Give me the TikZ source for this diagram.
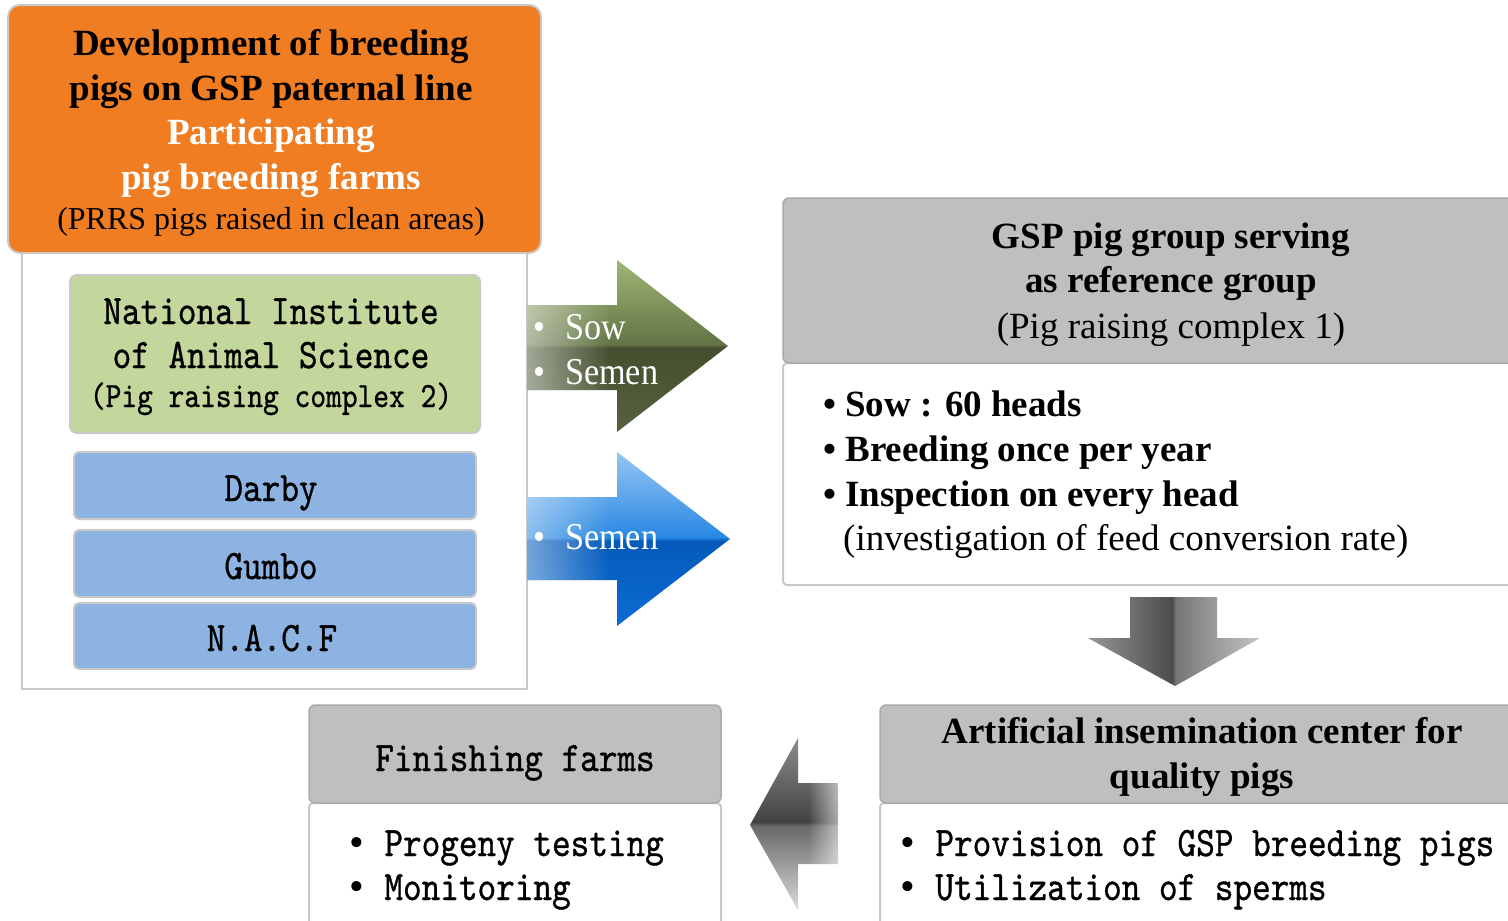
\documentclass[tikz,border=0pt]{standalone}
\usepackage{fontspec}
\setmainfont{Liberation Serif}
\newfontfamily\tnr{Liberation Serif}
\newfontfamily\narrowserif[FakeStretch=0.9]{Liberation Serif}
\newfontfamily\gmono[Extension=.otf, FakeStretch=0.845, FakeBold=0.8]{lmmono10-regular}
\usetikzlibrary{fadings}
\tikzfading[name=fadeR, left color=transparent!0, right color=transparent!100]
\tikzfading[name=fadeL, left color=transparent!100, right color=transparent!0]
\definecolor{orangefill}{RGB}{240,125,34}
\definecolor{greenfill}{RGB}{195,214,155}
\definecolor{bluefill}{RGB}{141,179,226}
\definecolor{hdrgray}{RGB}{191,191,191}
\definecolor{hdrline}{RGB}{170,170,170}
\definecolor{boxline}{RGB}{200,200,200}
% arrow shadings (stops 25bp..75bp map onto the path)
\pgfdeclareverticalshading{greenarrow}{100bp}{%
  color(0bp)=(rgb,255:red,86;green,98;blue,64); color(25bp)=(rgb,255:red,86;green,98;blue,64);
  color(49.5bp)=(rgb,255:red,68;green,78;blue,46); color(50.5bp)=(rgb,255:red,98;green,116;blue,70);
  color(75bp)=(rgb,255:red,160;green,182;blue,116); color(100bp)=(rgb,255:red,160;green,182;blue,116)}
\pgfdeclareverticalshading{bluearrow}{100bp}{%
  color(0bp)=(rgb,255:red,12;green,108;blue,210); color(25bp)=(rgb,255:red,12;green,108;blue,210);
  color(49.5bp)=(rgb,255:red,4;green,90;blue,186); color(50.5bp)=(rgb,255:red,40;green,136;blue,226);
  color(75bp)=(rgb,255:red,150;green,198;blue,244); color(100bp)=(rgb,255:red,150;green,198;blue,244)}
\pgfdeclarehorizontalshading{downarrow}{100bp}{%
  color(0bp)=(rgb,255:red,150;green,150;blue,150); color(25bp)=(rgb,255:red,150;green,150;blue,150);
  color(49.5bp)=(rgb,255:red,76;green,76;blue,76); color(50.5bp)=(rgb,255:red,118;green,118;blue,118);
  color(75bp)=(rgb,255:red,196;green,196;blue,196); color(100bp)=(rgb,255:red,196;green,196;blue,196)}
\pgfdeclareverticalshading{leftarrow}{100bp}{%
  color(0bp)=(rgb,255:red,218;green,218;blue,218); color(25bp)=(rgb,255:red,218;green,218;blue,218);
  color(49.5bp)=(rgb,255:red,104;green,104;blue,104); color(50.5bp)=(rgb,255:red,66;green,66;blue,66);
  color(75bp)=(rgb,255:red,140;green,140;blue,140); color(100bp)=(rgb,255:red,140;green,140;blue,140)}
\newcommand{\mbul}{\makebox[18.6pt]{\tnr •}}
\tikzset{
  panel/.style={draw=boxline, line width=2pt, fill=white},
  orangebox/.style={draw=boxline, line width=2pt, fill=orangefill, rounded corners=12pt},
  greenbox/.style={draw=boxline, line width=2pt, fill=greenfill, rounded corners=7pt},
  bluebox/.style={draw=boxline, line width=2pt, fill=bluefill, rounded corners=5pt},
  hdrbox/.style={draw=hdrline, line width=1.5pt, fill=hdrgray, rounded corners=6pt},
  bodybox/.style={draw=boxline, line width=2pt, fill=white, rounded corners=4pt},
  txt/.style={inner sep=0pt, anchor=base},
  txtw/.style={inner sep=0pt, anchor=base west},
  tbold/.style={txt, font=\fontsize{37}{44}\selectfont\bfseries},
  tboldw/.style={txtw, font=\fontsize{37}{44}\selectfont\bfseries},
  treg/.style={txt, font=\fontsize{37}{44}\selectfont},
  tregw/.style={txtw, font=\fontsize{37}{44}\selectfont},
  tsmall/.style={txt, font=\fontsize{32}{38}\selectfont},
  mono/.style={txt, font=\gmono\fontsize{42}{46}\selectfont},
  monow/.style={txtw, font=\gmono\fontsize{42}{46}\selectfont},
  monosmall/.style={txt, font=\gmono\fontsize{35.5}{40}\selectfont},
  arrowtxt/.style={txtw, text=white, font=\narrowserif\fontsize{38}{44}\selectfont},
}
\begin{document}
\begin{tikzpicture}[x=1pt,y=-1pt]
\clip (0,0) rectangle (1508,921);
\fill[white] (0,0) rectangle (1508,921);

% ---------- left column ----------
\node[panel, minimum width=505pt, minimum height=436pt] (panel) at (274.5,471) {};
\node[orangebox, minimum width=533pt, minimum height=248pt] (orange) at (274.5,129) {};
\node[tbold] (o1) at (271,55) {Development of breeding};
\node[tbold] (o2) at (271,100) {pigs on GSP paternal line};
\node[tbold, text=white] (o3) at (271,144) {Participating};
\node[tbold, text=white] (o4) at (271,189) {pig breeding farms};
\node[tsmall] (o5) at (271,229) {(PRRS pigs raised in clean areas)};

\node[greenbox, minimum width=410pt, minimum height=158pt] (nias) at (275,354) {};
\node[mono] (n1) at (271,324) {National Institute};
\node[mono] (n2) at (271,368) {of Animal Science};
\node[monosmall] (n3) at (271,407) {(Pig raising complex 2)};

\node[bluebox, minimum width=402pt, minimum height=67pt] (darby) at (275,485.5) {};
\node[bluebox, minimum width=402pt, minimum height=67pt] (gumbo) at (275,563.5) {};
\node[bluebox, minimum width=402pt, minimum height=66pt] (nacf) at (275,636) {};
\node[mono] (t-darby) at (271,501) {Darby};
\node[mono] (t-gumbo) at (271,579) {Gumbo};
\node[mono] (t-nacf) at (272,651) {N.A.C.F};

% ---------- horizontal arrows ----------
\shade[shading=greenarrow]
  (527,305) -- (617,305) -- (617,260) -- (728,346) -- (617,432) -- (617,390) -- (527,390) -- cycle;
\fill[white, path fading=fadeR, fill opacity=0.5] (527,305) rectangle (610,390);
\shade[shading=bluearrow]
  (527,497) -- (617,497) -- (617,452) -- (730,539) -- (617,626) -- (617,580) -- (527,580) -- cycle;
\fill[white, path fading=fadeR, fill opacity=0.45] (527,497) rectangle (610,580);
\node[arrowtxt] (a1) at (533,339) {\makebox[32pt][l]{•}Sow};
\node[arrowtxt] (a2) at (533,384) {\makebox[32pt][l]{•}Semen};
\node[arrowtxt] (a3) at (533,549) {\makebox[32pt][l]{•}Semen};

% ---------- right top box ----------
\node[bodybox, minimum width=737pt, minimum height=222pt] (refbody) at (1151.5,474) {};
\node[hdrbox, minimum width=737pt, minimum height=165pt] (refhdr) at (1151.5,280.5) {};
\node[tbold] (r1) at (1171,248) {GSP pig group serving};
\node[tbold] (r2) at (1171,292) {as reference group};
\node[treg] (r3) at (1171,338) {(Pig raising complex 1)};
\node[tboldw] (b1) at (823,416) {• Sow : 60 heads};
\node[tboldw] (b2) at (823,461) {• Breeding once per year};
\node[tboldw] (b3) at (823,506) {• Inspection on every head};
\node[tregw] (b4) at (843,550) {(investigation of feed conversion rate)};

% ---------- down arrow ----------
\shade[shading=downarrow]
  (1130,597) -- (1217,597) -- (1217,638) -- (1260,638) -- (1175,686) -- (1088,638) -- (1130,638) -- cycle;

% ---------- bottom right box ----------
\node[bodybox, minimum width=640pt, minimum height=132pt] (aibody) at (1200,869) {};
\node[hdrbox, minimum width=640pt, minimum height=98pt] (aihdr) at (1200,754) {};
\node[tbold] (ai1) at (1202,743) {Artificial insemination center for};
\node[tbold] (ai2) at (1202,788) {quality pigs};
\node[monow] (ai3) at (898,856) {\mbul\hspace{18.6pt}Provision of GSP breeding pigs};
\node[monow] (ai4) at (898,900) {\mbul\hspace{18.6pt}Utilization of sperms};

% ---------- left arrow ----------
\shade[shading=leftarrow]
  (838,783) -- (798,783) -- (798,738) -- (750,825) -- (798,910) -- (798,864) -- (838,864) -- cycle;
\fill[white, path fading=fadeL, fill opacity=0.6] (808,782) rectangle (840,865);

% ---------- finishing farms ----------
\node[bodybox, minimum width=412pt, minimum height=132pt] (finbody) at (515,869) {};
\node[hdrbox, minimum width=412pt, minimum height=98pt] (finhdr) at (515,754) {};
\node[mono] (f1) at (515,771) {Finishing farms};
\node[monow] (f2) at (347,856) {\mbul\hspace{18.6pt}Progeny testing};
\node[monow] (f3) at (347,900) {\mbul\hspace{18.6pt}Monitoring};
\end{tikzpicture}
\end{document}
